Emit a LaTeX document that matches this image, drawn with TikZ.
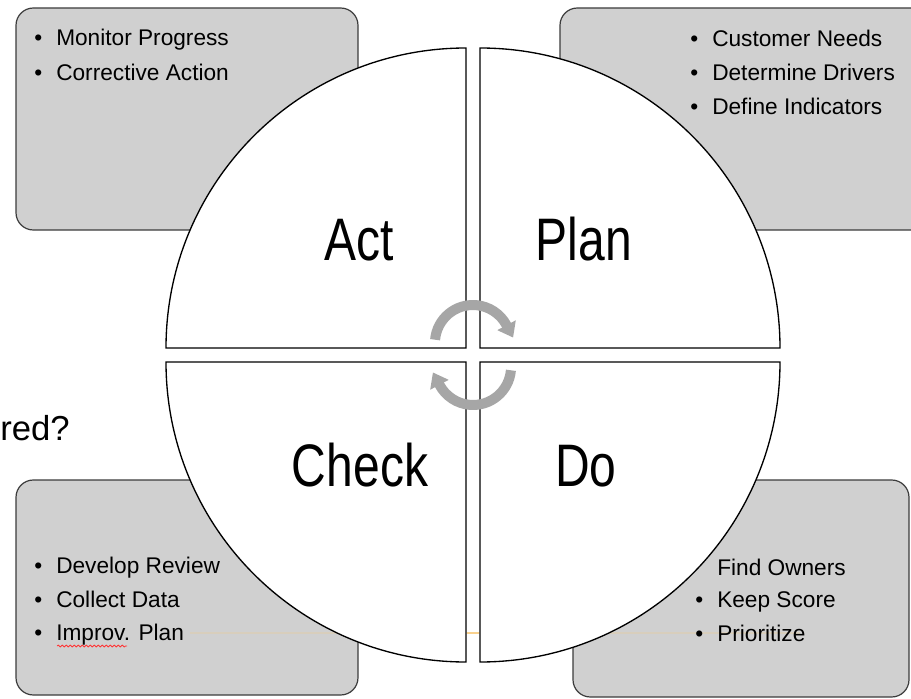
\documentclass[tikz,border=0pt]{standalone}
\usepackage{fontspec}
\setmainfont{Liberation Sans}
\newfontfamily\labelfont[FakeStretch=0.8]{Liberation Sans}
\usetikzlibrary{arrows.meta,decorations.pathmorphing}
\definecolor{boxfill}{HTML}{D0D0D0}
\definecolor{boxline}{HTML}{3C3C3C}
\definecolor{cyclegray}{HTML}{A6A6A6}
\definecolor{shadeorange}{HTML}{F8C878}
\newcommand{\bitem}[1]{\makebox[16.5pt][l]{\textbullet}#1}
\begin{document}
\begin{tikzpicture}[x=0.75pt,y=-0.75pt,
  infobox/.style={draw=boxline,fill=boxfill,line width=0.9pt,rounded corners=13pt},
  quadrant/.style={draw=black,fill=white,line width=1pt},
  bigtext/.style={font=\labelfont\fontsize{45}{54}\selectfont,inner sep=0pt,anchor=base},
  itemtext/.style={font=\fontsize{17}{20}\selectfont,text=black,inner sep=0pt,anchor=base west},
  cyclearrow/.style={draw=cyclegray,line width=7.5pt,-{Triangle[length=10.5pt,width=15pt]}}]
\useasboundingbox (0,0) rectangle (911,699);

% grey information boxes
\path[infobox] (16,8) rectangle (358,230);
\path[infobox] (560,8) rectangle (935,230);
\path[infobox] (16,480) rectangle (358,695);
\path[infobox] (573,480) rectangle (909,697);

% faint line artefact
\draw[shadeorange,opacity=0.22,line width=1.5pt] (190,633) -- (800,633);

% four quadrants
\path[quadrant] (466,348) -- (166,348) arc[start angle=180,end angle=270,radius=300] -- cycle;
\path[quadrant] (480,348) -- (480,48) arc[start angle=270,end angle=360,radius=300] -- cycle;
\path[quadrant] (466,362) -- (466,662) arc[start angle=90,end angle=180,radius=300] -- cycle;
\path[quadrant] (480,362) -- (780,362) arc[start angle=0,end angle=90,radius=300] -- cycle;

% orange mark visible in the gap
\draw[shadeorange,opacity=0.8,line width=1.5pt] (467,633) -- (479,633);

% cycle arrows
\draw[cyclearrow] (435.1,339.7) arc[start angle=185,end angle=332,radius=38] -- ++(6.6,12.4);
\draw[cyclearrow] (510.9,370.3) arc[start angle=5,end angle=152,radius=38] -- ++(-6.6,-12.4);

% quadrant labels
\node[bigtext] (act) at (359,260) {Act};
\node[bigtext] (plan) at (584,260) {Plan};
\node[bigtext] (check) at (360,486) {Check};
\node[bigtext] (do) at (586,486) {Do};

% partial text at left
\node[font=\fontsize{26}{30}\selectfont,inner sep=0pt,anchor=base east] (red) at (70,440) {red?};

% box items
\node[itemtext] (tl1) at (34,46) {\bitem{Monitor Progress}};
\node[itemtext] (tl2) at (34,80.5) {\bitem{Corrective Action}};

\node[itemtext] (tr1) at (690,47) {\bitem{Customer Needs}};
\node[itemtext] (tr2) at (690,81) {\bitem{Determine Drivers}};
\node[itemtext] (tr3) at (690,115) {\bitem{Define Indicators}};

\node[itemtext] (bl1) at (34,573) {\bitem{Develop Review}};
\node[itemtext] (bl2) at (34,607) {\bitem{Collect Data}};
\node[itemtext] (bl3) at (34,640) {\bitem{Improv. Plan}};
\draw[red!80,line width=0.6pt,decorate,decoration={snake,amplitude=0.7pt,segment length=3pt}] (57,646) -- (127,646);

\node[itemtext] (br1) at (717,575) {Find Owners};
\node[itemtext] (br2) at (695,607) {\bitem{Keep Score}};
\node[itemtext] (br3) at (695,641) {\bitem{Prioritize}};
\end{tikzpicture}
\end{document}
